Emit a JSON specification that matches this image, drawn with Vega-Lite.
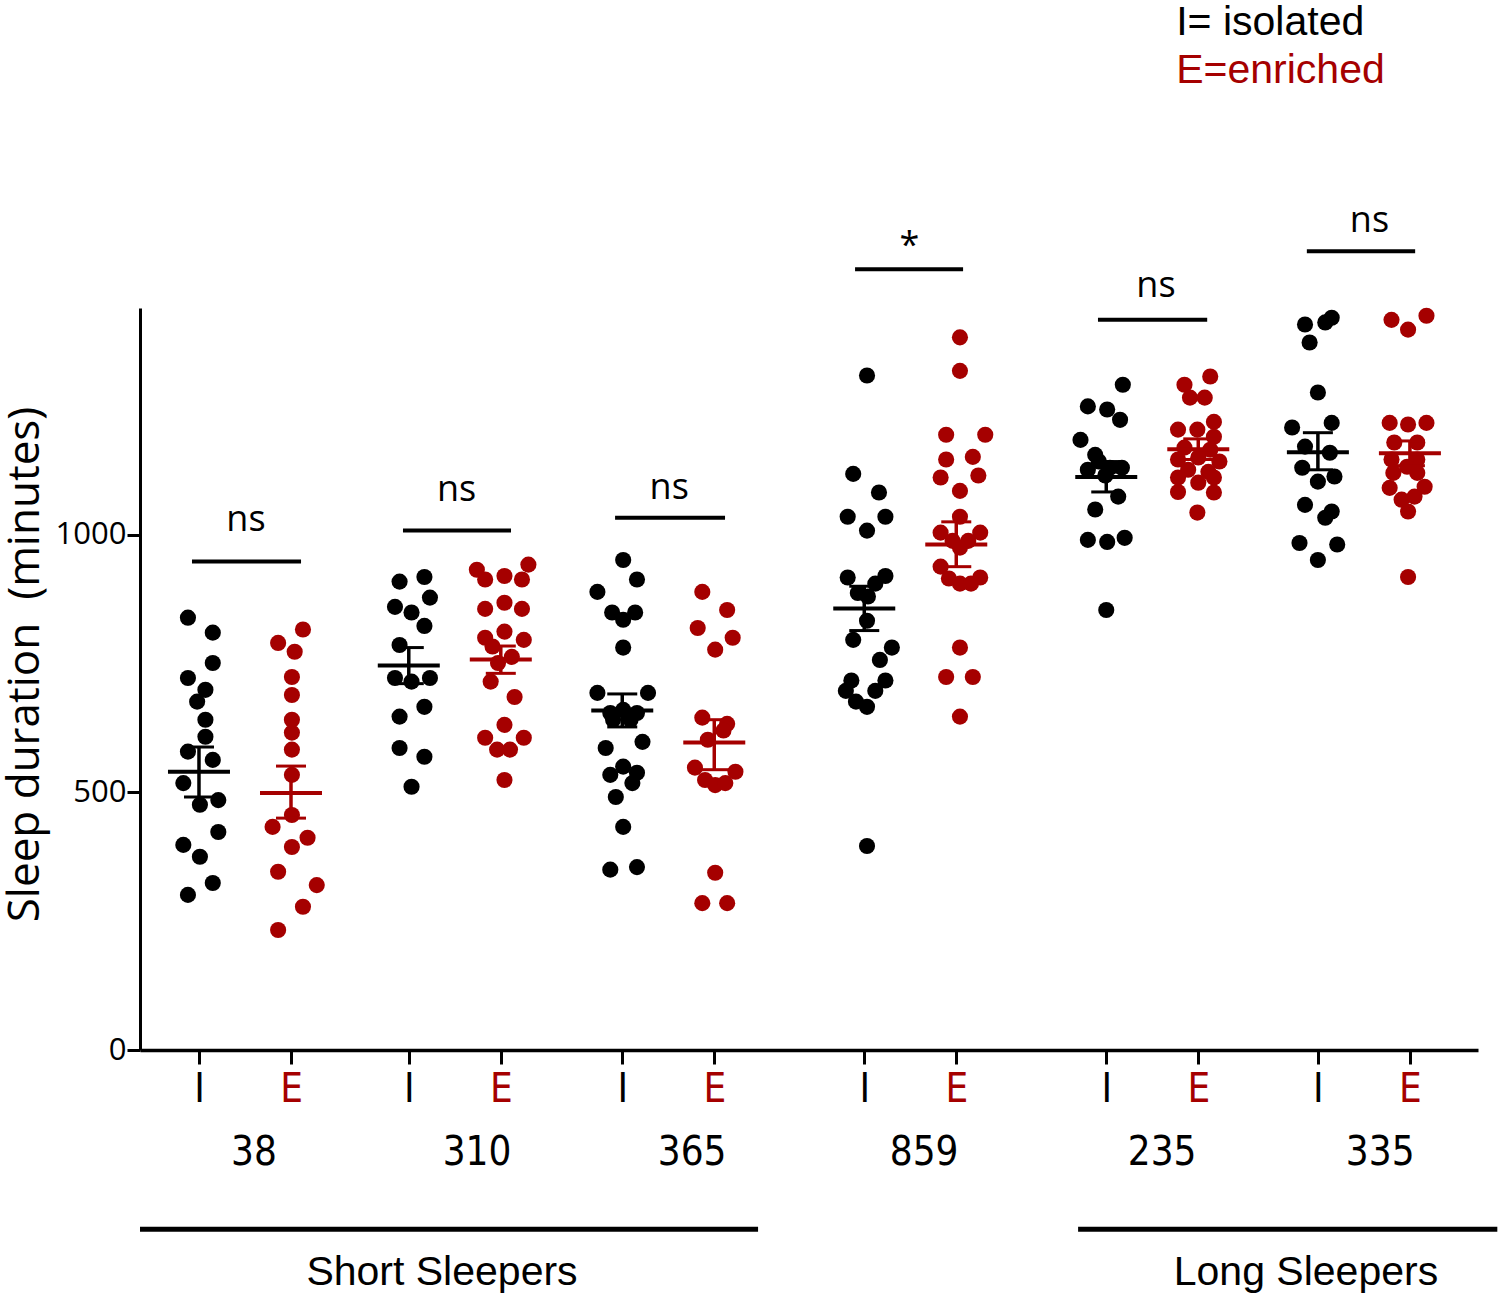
{
  "$schema": "https://vega.github.io/schema/vega-lite/v6.json",
  "width": 1338,
  "height": 742,
  "autosize": {"type": "none"},
  "padding": {"left": 140, "top": 308, "right": 22, "bottom": 249},
  "background": "white",
  "config": {"view": {"stroke": null}},
  "datasets": {
    "points": [
      {"g":"38","t":"I","x":0.88,"v":839},{"g":"38","t":"I","x":1.15,"v":810},{"g":"38","t":"I","x":1.15,"v":751},{"g":"38","t":"I","x":0.88,"v":722},{"g":"38","t":"I","x":1.07,"v":699},{"g":"38","t":"I","x":0.98,"v":676},{"g":"38","t":"I","x":1.07,"v":641},{"g":"38","t":"I","x":1.07,"v":608},{"g":"38","t":"I","x":0.88,"v":579},{"g":"38","t":"I","x":1.15,"v":563},{"g":"38","t":"I","x":0.83,"v":518},{"g":"38","t":"I","x":1.01,"v":476},{"g":"38","t":"I","x":1.21,"v":485},{"g":"38","t":"I","x":1.21,"v":423},{"g":"38","t":"I","x":0.83,"v":398},{"g":"38","t":"I","x":1.01,"v":375},{"g":"38","t":"I","x":1.15,"v":324},{"g":"38","t":"I","x":0.88,"v":301},
      {"g":"38","t":"E","x":2.13,"v":816},{"g":"38","t":"E","x":1.86,"v":790},{"g":"38","t":"E","x":2.04,"v":773},{"g":"38","t":"E","x":2.01,"v":724},{"g":"38","t":"E","x":2.01,"v":689},{"g":"38","t":"E","x":2.01,"v":641},{"g":"38","t":"E","x":2.01,"v":616},{"g":"38","t":"E","x":2.01,"v":583},{"g":"38","t":"E","x":2.01,"v":534},{"g":"38","t":"E","x":2.01,"v":456},{"g":"38","t":"E","x":1.80,"v":433},{"g":"38","t":"E","x":2.18,"v":412},{"g":"38","t":"E","x":2.01,"v":394},{"g":"38","t":"E","x":1.86,"v":346},{"g":"38","t":"E","x":2.28,"v":320},{"g":"38","t":"E","x":2.13,"v":278},{"g":"38","t":"E","x":1.86,"v":233},
      {"g":"310","t":"I","x":3.18,"v":909},{"g":"310","t":"I","x":3.45,"v":918},{"g":"310","t":"I","x":3.51,"v":878},{"g":"310","t":"I","x":3.13,"v":860},{"g":"310","t":"I","x":3.31,"v":849},{"g":"310","t":"I","x":3.45,"v":823},{"g":"310","t":"I","x":3.18,"v":786},{"g":"310","t":"I","x":3.13,"v":722},{"g":"310","t":"I","x":3.31,"v":715},{"g":"310","t":"I","x":3.51,"v":722},{"g":"310","t":"I","x":3.45,"v":666},{"g":"310","t":"I","x":3.18,"v":647},{"g":"310","t":"I","x":3.18,"v":586},{"g":"310","t":"I","x":3.45,"v":569},{"g":"310","t":"I","x":3.31,"v":511},
      {"g":"310","t":"E","x":4.02,"v":932},{"g":"310","t":"E","x":4.58,"v":942},{"g":"310","t":"E","x":4.11,"v":913},{"g":"310","t":"E","x":4.32,"v":920},{"g":"310","t":"E","x":4.51,"v":913},{"g":"310","t":"E","x":4.11,"v":856},{"g":"310","t":"E","x":4.32,"v":868},{"g":"310","t":"E","x":4.51,"v":856},{"g":"310","t":"E","x":4.11,"v":800},{"g":"310","t":"E","x":4.32,"v":812},{"g":"310","t":"E","x":4.53,"v":796},{"g":"310","t":"E","x":4.19,"v":783},{"g":"310","t":"E","x":4.40,"v":763},{"g":"310","t":"E","x":4.25,"v":751},{"g":"310","t":"E","x":4.17,"v":715},{"g":"310","t":"E","x":4.43,"v":685},{"g":"310","t":"E","x":4.32,"v":631},{"g":"310","t":"E","x":4.11,"v":606},{"g":"310","t":"E","x":4.53,"v":606},{"g":"310","t":"E","x":4.24,"v":583},{"g":"310","t":"E","x":4.38,"v":583},{"g":"310","t":"E","x":4.32,"v":524},
      {"g":"365","t":"I","x":5.61,"v":951},{"g":"365","t":"I","x":5.76,"v":913},{"g":"365","t":"I","x":5.33,"v":889},{"g":"365","t":"I","x":5.49,"v":849},{"g":"365","t":"I","x":5.74,"v":849},{"g":"365","t":"I","x":5.61,"v":835},{"g":"365","t":"I","x":5.61,"v":781},{"g":"365","t":"I","x":5.33,"v":693},{"g":"365","t":"I","x":5.88,"v":693},{"g":"365","t":"I","x":5.47,"v":654},{"g":"365","t":"I","x":5.61,"v":660},{"g":"365","t":"I","x":5.76,"v":654},{"g":"365","t":"I","x":5.50,"v":641},{"g":"365","t":"I","x":5.69,"v":641},{"g":"365","t":"I","x":5.82,"v":598},{"g":"365","t":"I","x":5.42,"v":586},{"g":"365","t":"I","x":5.61,"v":550},{"g":"365","t":"I","x":5.47,"v":534},{"g":"365","t":"I","x":5.76,"v":538},{"g":"365","t":"I","x":5.71,"v":518},{"g":"365","t":"I","x":5.53,"v":491},{"g":"365","t":"I","x":5.61,"v":433},{"g":"365","t":"I","x":5.47,"v":350},{"g":"365","t":"I","x":5.76,"v":355},
      {"g":"365","t":"E","x":6.47,"v":889},{"g":"365","t":"E","x":6.74,"v":854},{"g":"365","t":"E","x":6.42,"v":819},{"g":"365","t":"E","x":6.80,"v":800},{"g":"365","t":"E","x":6.61,"v":777},{"g":"365","t":"E","x":6.47,"v":645},{"g":"365","t":"E","x":6.74,"v":633},{"g":"365","t":"E","x":6.53,"v":602},{"g":"365","t":"E","x":6.70,"v":620},{"g":"365","t":"E","x":6.39,"v":548},{"g":"365","t":"E","x":6.83,"v":540},{"g":"365","t":"E","x":6.50,"v":524},{"g":"365","t":"E","x":6.61,"v":514},{"g":"365","t":"E","x":6.72,"v":518},{"g":"365","t":"E","x":6.61,"v":344},{"g":"365","t":"E","x":6.47,"v":285},{"g":"365","t":"E","x":6.74,"v":285},
      {"g":"859","t":"I","x":8.26,"v":1309},{"g":"859","t":"I","x":8.11,"v":1118},{"g":"859","t":"I","x":8.39,"v":1082},{"g":"859","t":"I","x":8.05,"v":1035},{"g":"859","t":"I","x":8.46,"v":1035},{"g":"859","t":"I","x":8.26,"v":1008},{"g":"859","t":"I","x":8.05,"v":917},{"g":"859","t":"I","x":8.46,"v":920},{"g":"859","t":"I","x":8.35,"v":905},{"g":"859","t":"I","x":8.16,"v":887},{"g":"859","t":"I","x":8.27,"v":880},{"g":"859","t":"I","x":8.26,"v":833},{"g":"859","t":"I","x":8.11,"v":796},{"g":"859","t":"I","x":8.53,"v":781},{"g":"859","t":"I","x":8.40,"v":757},{"g":"859","t":"I","x":8.09,"v":717},{"g":"859","t":"I","x":8.46,"v":717},{"g":"859","t":"I","x":8.03,"v":697},{"g":"859","t":"I","x":8.35,"v":697},{"g":"859","t":"I","x":8.14,"v":676},{"g":"859","t":"I","x":8.26,"v":666},{"g":"859","t":"I","x":8.26,"v":396},
      {"g":"859","t":"E","x":9.27,"v":1383},{"g":"859","t":"E","x":9.27,"v":1318},{"g":"859","t":"E","x":9.12,"v":1194},{"g":"859","t":"E","x":9.545,"v":1194},{"g":"859","t":"E","x":9.41,"v":1151},{"g":"859","t":"E","x":9.12,"v":1146},{"g":"859","t":"E","x":9.06,"v":1111},{"g":"859","t":"E","x":9.47,"v":1115},{"g":"859","t":"E","x":9.27,"v":1085},{"g":"859","t":"E","x":9.27,"v":1035},{"g":"859","t":"E","x":9.06,"v":1004},{"g":"859","t":"E","x":9.49,"v":1004},{"g":"859","t":"E","x":9.19,"v":988},{"g":"859","t":"E","x":9.36,"v":988},{"g":"859","t":"E","x":9.27,"v":975},{"g":"859","t":"E","x":9.06,"v":938},{"g":"859","t":"E","x":9.49,"v":917},{"g":"859","t":"E","x":9.15,"v":915},{"g":"859","t":"E","x":9.27,"v":905},{"g":"859","t":"E","x":9.39,"v":905},{"g":"859","t":"E","x":9.27,"v":781},{"g":"859","t":"E","x":9.12,"v":724},{"g":"859","t":"E","x":9.41,"v":724},{"g":"859","t":"E","x":9.27,"v":647},
      {"g":"235","t":"I","x":11.04,"v":1291},{"g":"235","t":"I","x":10.66,"v":1249},{"g":"235","t":"I","x":10.87,"v":1243},{"g":"235","t":"I","x":11.01,"v":1223},{"g":"235","t":"I","x":10.58,"v":1184},{"g":"235","t":"I","x":10.74,"v":1155},{"g":"235","t":"I","x":10.66,"v":1126},{"g":"235","t":"I","x":10.78,"v":1142},{"g":"235","t":"I","x":10.90,"v":1130},{"g":"235","t":"I","x":11.03,"v":1130},{"g":"235","t":"I","x":10.85,"v":1115},{"g":"235","t":"I","x":10.99,"v":1074},{"g":"235","t":"I","x":10.74,"v":1049},{"g":"235","t":"I","x":10.66,"v":990},{"g":"235","t":"I","x":10.87,"v":986},{"g":"235","t":"I","x":11.06,"v":994},{"g":"235","t":"I","x":10.86,"v":854},
      {"g":"235","t":"E","x":11.99,"v":1307},{"g":"235","t":"E","x":11.71,"v":1291},{"g":"235","t":"E","x":11.77,"v":1266},{"g":"235","t":"E","x":11.93,"v":1266},{"g":"235","t":"E","x":12.03,"v":1219},{"g":"235","t":"E","x":11.64,"v":1204},{"g":"235","t":"E","x":11.85,"v":1204},{"g":"235","t":"E","x":12.03,"v":1190},{"g":"235","t":"E","x":11.71,"v":1169},{"g":"235","t":"E","x":11.99,"v":1165},{"g":"235","t":"E","x":11.64,"v":1146},{"g":"235","t":"E","x":11.86,"v":1150},{"g":"235","t":"E","x":12.09,"v":1142},{"g":"235","t":"E","x":11.75,"v":1126},{"g":"235","t":"E","x":11.97,"v":1122},{"g":"235","t":"E","x":11.64,"v":1111},{"g":"235","t":"E","x":12.03,"v":1111},{"g":"235","t":"E","x":11.86,"v":1101},{"g":"235","t":"E","x":11.64,"v":1083},{"g":"235","t":"E","x":12.03,"v":1082},{"g":"235","t":"E","x":11.85,"v":1043},
      {"g":"335","t":"I","x":13.02,"v":1408},{"g":"335","t":"I","x":13.24,"v":1412},{"g":"335","t":"I","x":13.31,"v":1421},{"g":"335","t":"I","x":13.07,"v":1373},{"g":"335","t":"I","x":13.16,"v":1276},{"g":"335","t":"I","x":12.88,"v":1208},{"g":"335","t":"I","x":13.31,"v":1217},{"g":"335","t":"I","x":13.02,"v":1171},{"g":"335","t":"I","x":13.29,"v":1159},{"g":"335","t":"I","x":12.99,"v":1130},{"g":"335","t":"I","x":13.34,"v":1113},{"g":"335","t":"I","x":13.16,"v":1103},{"g":"335","t":"I","x":13.02,"v":1058},{"g":"335","t":"I","x":13.31,"v":1045},{"g":"335","t":"I","x":13.24,"v":1033},{"g":"335","t":"I","x":12.96,"v":984},{"g":"335","t":"I","x":13.37,"v":981},{"g":"335","t":"I","x":13.16,"v":951},
      {"g":"335","t":"E","x":13.96,"v":1417},{"g":"335","t":"E","x":14.34,"v":1425},{"g":"335","t":"E","x":14.14,"v":1398},{"g":"335","t":"E","x":13.94,"v":1217},{"g":"335","t":"E","x":14.14,"v":1214},{"g":"335","t":"E","x":14.34,"v":1217},{"g":"335","t":"E","x":13.99,"v":1179},{"g":"335","t":"E","x":14.24,"v":1179},{"g":"335","t":"E","x":13.96,"v":1146},{"g":"335","t":"E","x":14.24,"v":1146},{"g":"335","t":"E","x":13.98,"v":1120},{"g":"335","t":"E","x":14.13,"v":1132},{"g":"335","t":"E","x":14.24,"v":1120},{"g":"335","t":"E","x":13.94,"v":1091},{"g":"335","t":"E","x":14.32,"v":1093},{"g":"335","t":"E","x":14.07,"v":1068},{"g":"335","t":"E","x":14.21,"v":1074},{"g":"335","t":"E","x":14.14,"v":1045},{"g":"335","t":"E","x":14.14,"v":918}
    ],
    "summary": [
      {"g":"38","t":"I","x":1,"mean":540,"lo":491,"hi":588},
      {"g":"38","t":"E","x":2,"mean":499,"lo":450,"hi":551},
      {"g":"310","t":"I","x":3.28,"mean":746,"lo":711,"hi":781},
      {"g":"310","t":"E","x":4.28,"mean":758,"lo":731,"hi":784},
      {"g":"365","t":"I","x":5.6,"mean":659,"lo":627,"hi":691},
      {"g":"365","t":"E","x":6.6,"mean":597,"lo":544,"hi":641},
      {"g":"859","t":"I","x":8.23,"mean":857,"lo":814,"hi":900},
      {"g":"859","t":"E","x":9.23,"mean":981,"lo":938,"hi":1025},
      {"g":"235","t":"I","x":10.86,"mean":1112,"lo":1083,"hi":1142},
      {"g":"235","t":"E","x":11.86,"mean":1166,"lo":1146,"hi":1186},
      {"g":"335","t":"I","x":13.16,"mean":1160,"lo":1126,"hi":1198},
      {"g":"335","t":"E","x":14.16,"mean":1158,"lo":1134,"hi":1182}
    ],
    "sig": [
      {"g":"38","x1":0.924,"x2":2.109,"y":948,"label":"ns","lx":1.51,"ly":1029},
      {"g":"310","x1":3.217,"x2":4.391,"y":1008,"label":"ns","lx":3.80,"ly":1087},
      {"g":"365","x1":5.522,"x2":6.717,"y":1033,"label":"ns","lx":6.11,"ly":1091},
      {"g":"859","x1":8.13,"x2":9.304,"y":1515,"label":"*","lx":8.72,"ly":1561},
      {"g":"235","x1":10.77,"x2":11.957,"y":1417,"label":"ns","lx":11.40,"ly":1482},
      {"g":"335","x1":13.04,"x2":14.217,"y":1550,"label":"ns","lx":13.72,"ly":1608}
    ],
    "groups": [
      {"g":"38","x":1.598,"y":-200},
      {"g":"310","x":4.022,"y":-200},
      {"g":"365","x":6.359,"y":-200},
      {"g":"859","x":8.88,"y":-200},
      {"g":"235","x":11.467,"y":-200},
      {"g":"335","x":13.837,"y":-200}
    ],
    "sleepers": [
      {"name":"Short Sleepers","x1":0.359,"x2":7.076,"y":-348,"lx":3.641,"ly":-433},
      {"name":"Long Sleepers","x1":10.554,"x2":15.11,"y":-348,"lx":13.03,"ly":-433}
    ],
    "legend": [
      {"t":"I","text":"I= isolated","x":11.62,"y":1993},
      {"t":"E","text":"E=enriched","x":11.62,"y":1899}
    ]
  },
  "layer": [
    {
      "data": {"name": "points"},
      "mark": {"type": "circle", "size": 260, "opacity": 1},
      "encoding": {
        "x": {
          "field": "x", "type": "quantitative",
          "scale": {"domain": [0.359, 14.9], "nice": false, "zero": false},
          "axis": {
            "title": null, "grid": false,
            "values": [1, 2, 3.28, 4.28, 5.6, 6.6, 8.23, 9.23, 10.86, 11.86, 13.16, 14.16],
            "labelExpr": "indexof([1,3.28,5.6,8.23,10.86,13.16], datum.value) >= 0 ? 'I' : 'E'",
            "labelColor": {"condition": {"test": "indexof([1,3.28,5.6,8.23,10.86,13.16], datum.value) >= 0", "value": "black"}, "value": "#a50000"},
            "labelFont": "Liberation Sans Narrow, DejaVu Sans Condensed, Liberation Sans",
            "labelFontSize": 40,
            "labelPadding": 5,
            "labelFlush": false,
            "labelOverlap": false,
            "tickSize": 14, "tickWidth": 3, "tickColor": "black",
            "domainWidth": 3.5, "domainColor": "black"
          }
        },
        "y": {
          "field": "v", "type": "quantitative",
          "scale": {"domain": [0, 1440], "nice": false, "zero": true},
          "axis": {
            "title": "Sleep duration\u00a0 (minutes)", "grid": false,
            "values": [0, 500, 1000],
            "format": "d",
            "labelFont": "Open Sans", "labelFontSize": 31, "labelColor": "black",
            "labelPadding": 1,
            "tickSize": 13, "tickWidth": 3, "tickColor": "black",
            "domainWidth": 3, "domainColor": "black",
            "titleFont": "Open Sans", "titleFontSize": 44, "titleFontWeight": "normal",
            "titleColor": "black", "titlePadding": 8, "titleY": 356
          }
        },
        "color": {"field": "t", "type": "nominal", "scale": {"domain": ["I", "E"], "range": ["black", "#a50000"]}, "legend": null}
      }
    },
    {
      "data": {"name": "summary"},
      "mark": {"type": "tick", "orient": "horizontal", "size": 62, "thickness": 4, "opacity": 1},
      "encoding": {
        "x": {"field": "x", "type": "quantitative"},
        "y": {"field": "mean", "type": "quantitative"},
        "color": {"field": "t", "type": "nominal", "legend": null}
      }
    },
    {
      "data": {"name": "summary"},
      "mark": {"type": "rule", "strokeWidth": 3.5},
      "encoding": {
        "x": {"field": "x", "type": "quantitative"},
        "y": {"field": "lo", "type": "quantitative"},
        "y2": {"field": "hi"},
        "color": {"field": "t", "type": "nominal", "legend": null}
      }
    },
    {
      "data": {"name": "summary"},
      "mark": {"type": "tick", "orient": "horizontal", "size": 30, "thickness": 3, "opacity": 1},
      "encoding": {
        "x": {"field": "x", "type": "quantitative"},
        "y": {"field": "hi", "type": "quantitative"},
        "color": {"field": "t", "type": "nominal", "legend": null}
      }
    },
    {
      "data": {"name": "summary"},
      "mark": {"type": "tick", "orient": "horizontal", "size": 30, "thickness": 3, "opacity": 1},
      "encoding": {
        "x": {"field": "x", "type": "quantitative"},
        "y": {"field": "lo", "type": "quantitative"},
        "color": {"field": "t", "type": "nominal", "legend": null}
      }
    },
    {
      "data": {"name": "sig"},
      "mark": {"type": "rule", "strokeWidth": 4, "color": "black"},
      "encoding": {
        "x": {"field": "x1", "type": "quantitative"},
        "x2": {"field": "x2"},
        "y": {"field": "y", "type": "quantitative"}
      }
    },
    {
      "data": {"name": "sig"},
      "mark": {"type": "text", "font": "Open Sans", "fontSize": 36, "color": "black", "align": "center", "baseline": "middle"},
      "encoding": {
        "x": {"field": "lx", "type": "quantitative"},
        "y": {"field": "ly", "type": "quantitative"},
        "text": {"field": "label"}
      }
    },
    {
      "data": {"name": "groups"},
      "mark": {"type": "text", "font": "Liberation Sans Narrow, DejaVu Sans Condensed, Liberation Sans", "fontSize": 40, "color": "black", "align": "center", "baseline": "middle"},
      "encoding": {
        "x": {"field": "x", "type": "quantitative"},
        "y": {"field": "y", "type": "quantitative"},
        "text": {"field": "g"}
      }
    },
    {
      "data": {"name": "sleepers"},
      "mark": {"type": "rule", "strokeWidth": 5, "color": "black"},
      "encoding": {
        "x": {"field": "x1", "type": "quantitative"},
        "x2": {"field": "x2"},
        "y": {"field": "y", "type": "quantitative"}
      }
    },
    {
      "data": {"name": "sleepers"},
      "mark": {"type": "text", "font": "Liberation Sans", "fontSize": 41, "color": "black", "align": "center", "baseline": "middle"},
      "encoding": {
        "x": {"field": "lx", "type": "quantitative"},
        "y": {"field": "ly", "type": "quantitative"},
        "text": {"field": "name"}
      }
    },
    {
      "data": {"name": "legend"},
      "mark": {"type": "text", "font": "Liberation Sans", "fontSize": 41, "align": "left", "baseline": "middle"},
      "encoding": {
        "x": {"field": "x", "type": "quantitative"},
        "y": {"field": "y", "type": "quantitative"},
        "text": {"field": "text"},
        "color": {"field": "t", "type": "nominal", "legend": null}
      }
    }
  ]
}
